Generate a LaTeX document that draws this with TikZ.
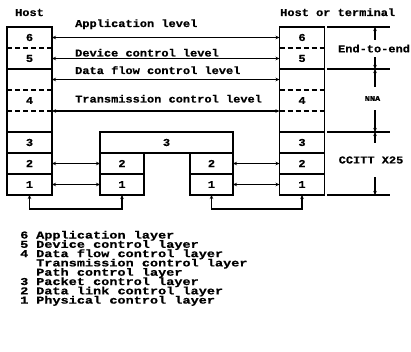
\documentclass[tikz,border=0pt]{standalone}
\usepackage{fontspec}
\usetikzlibrary{arrows.meta,positioning,calc}
\newfontfamily\typ[FakeStretch=1.14,FakeBold=0.6]{Liberation Mono}
\newfontfamily\typlarga[FakeStretch=1.29,FakeBold=0.6]{Liberation Mono}
\newcommand\letra{\typ\bfseries\fontsize{10.5}{10.5}\selectfont}
\newcommand\letralegenda{\typlarga\bfseries\fontsize{10.5}{9.3}\selectfont}

\begin{document}
\begin{tikzpicture}[x=1pt,y=-1pt,
    celula/.style={minimum width=45pt,minimum height=21pt,inner sep=0pt,outer sep=0pt,font=\letra},
    caixa/.style={celula,draw,line width=1.5pt},
    borda/.style={line width=1.5pt},
    tracejado/.style={line width=1.5pt,dash pattern=on 5pt off 3pt},
    rotulo/.style={font=\letra,inner sep=0pt,anchor=base west},
    seta/.style={{Stealth[length=4pt,width=3.5pt]}-{Stealth[length=4pt,width=3.5pt]},line width=1.3pt},
    cota/.style={-{Stealth[length=4pt,width=3.5pt]},line width=1.3pt},
    legenda/.style={font=\letralegenda,inner xsep=0pt,inner ysep=-0.6pt,anchor=base west}]
  \useasboundingbox (0,0) rectangle (411,352);
  % the two end stacks
  \foreach \s/\x in {L/29.5,R/302}{
    \node[celula] (\s6) at (\x,37.5) {6};
    \node[celula,below=0pt of \s6] (\s5) {5};
    \node[celula,below=0pt of \s5] (\s-a) {};
    \node[celula,below=0pt of \s-a] (\s4) {4};
    \node[celula,below=0pt of \s4] (\s-b) {};
    \node[celula,below=0pt of \s-b] (\s3) {3};
    \node[celula,below=0pt of \s3] (\s2) {2};
    \node[celula,below=0pt of \s2] (\s1) {1};
    \draw[borda] (\s6.north west) rectangle (\s1.south east);
    \foreach \c in {6,-a,4} \draw[tracejado] (\s\c.south west) -- (\s\c.south east);
    \foreach \c in {5,-b,3,2} \draw[borda] (\s\c.south west) -- (\s\c.south east);
  }
  \node[rotulo,anchor=base] (host) at (29.5,16) {Host};
  \node[rotulo] (term) at (280,16) {Host or terminal};
  % network nodes
  \node[caixa,minimum width=133pt] (M3) at (166.5,142.5) {3};
  \node[caixa,minimum width=44pt] (M2) at (122,163.5) {2};
  \node[caixa,minimum width=44pt] (M1) at (122,184.5) {1};
  \node[caixa,minimum width=43pt] (N2) at (211.5,163.5) {2};
  \node[caixa,minimum width=43pt] (N1) at (211.5,184.5) {1};
  % levels
  \node[rotulo] (apl) at (75,27) {Application level};
  \node[rotulo] (disp) at (75,56.5) {Device control level};
  \node[rotulo] (fluxo) at (75,74) {Data flow control level};
  \node[rotulo] (trans) at (75,102.5) {Transmission control level};
  \foreach \c in {6,5,-a} \draw[seta] (L\c.east) -- (R\c.west);
  \draw[seta] (L4.south east) -- (R4.south west);
  \foreach \u/\v in {L2/M2,L1/M1,N2/R2,N1/R1} \draw[seta] (\u.east) -- (\v.west);
  \draw[seta] (L1.south) -- ++(0,14) -| (M1.south);
  \draw[seta] (N1.south) -- ++(0,14) -| (R1.south);
  % dimensions on the right
  \foreach \i/\y in {0/27,1/69,2/132,3/195}{
    \coordinate (e\i) at (375,\y);
    \draw[borda] (327,\y) -- (390,\y);
  }
  \node[rotulo,anchor=center,minimum height=17pt] (fim) at (374,48.5) {End-to-end};
  \node[rotulo,anchor=center,minimum height=23pt,font=\typ\bfseries\fontsize{7.5}{7.5}\selectfont] (nna) at (372.5,98.5) {NNA};
  \node[rotulo,anchor=center,minimum height=34pt] (ccitt) at (371,160) {CCITT X25};
  \draw[cota] (fim.north -| e0) -- (e0);
  \draw[cota] (fim.south -| e1) -- (e1);
  \draw[cota] (nna.north -| e1) -- (e1);
  \draw[cota] (nna.south -| e2) -- (e2);
  \draw[cota] (ccitt.north -| e2) -- (e2);
  \draw[cota] (ccitt.south -| e3) -- (e3);
  % legend
  \foreach \n/\t [count=\i from 0] in {6/Application layer,5/Device control layer,4/Data flow control layer,
      /Transmission control layer,/Path control layer,3/Packet control layer,2/Data link control layer,1/Physical control layer}{
    \node[legenda] (num\i) at (20,238.5+9.3*\i) {\n};
    \node[legenda] (leg\i) at (36,238.5+9.3*\i) {\t};
  }
\end{tikzpicture}
\end{document}
